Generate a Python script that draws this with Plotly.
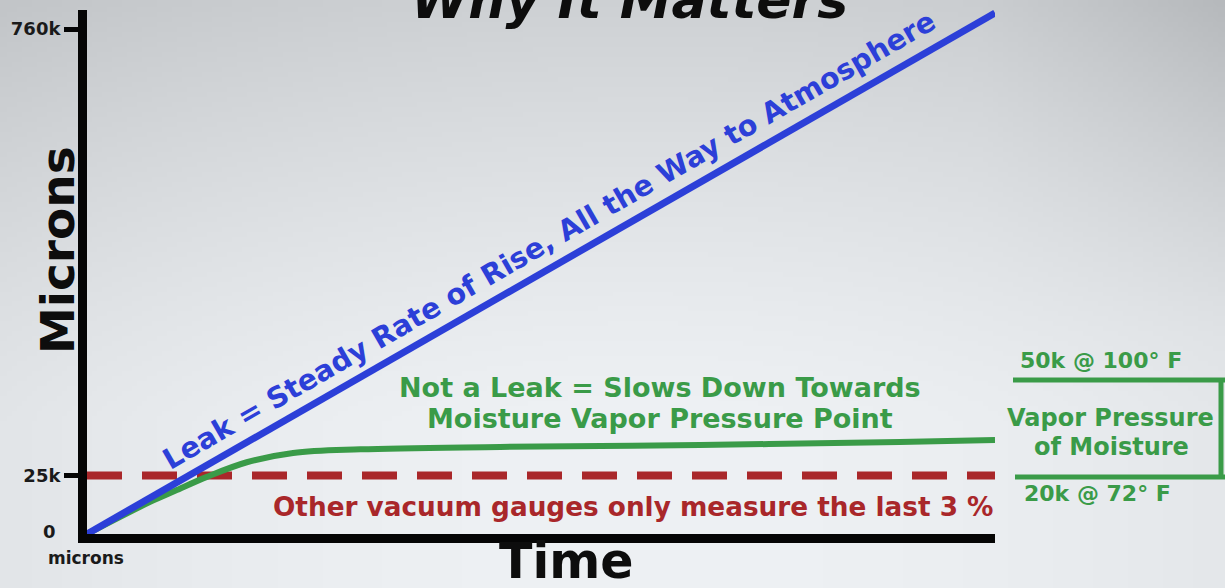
import zlib, struct, base64
import plotly.graph_objects as go

# ---------------- data (chart units: y in "display kilo-microns") ----------------
time_leak = [0, 100]
leak_level = [0, 784]

time_moist = [0, 6.9, 9.7, 13.2, 17.6, 22.7, 30.1, 45.5, 67.5, 89.5, 100]
moist_level = [0, 48, 65, 86, 108, 122, 127.5, 131, 134, 138.5, 141.5]

time_gauge = [0, 100]
gauge_level = [88, 88]

y_tickvals = [88, 760]
y_ticktext = ["25k", "760k"]

# ---------------- layout geometry ----------------
W, H = 1225, 588
ML, MR, MT, MB = 87, 230, 10, 54
PW, PH = W - ML - MR, H - MT - MB


def px(xp):
    return (xp - ML) / PW


def py(yp):
    return (H - MB - yp) / PH


# ---------------- background gradient image ----------------
def png_data_uri(w, h, fn):
    raw = bytearray()
    for j in range(h):
        raw.append(0)
        for i in range(w):
            raw += bytes(fn(i, j))

    def chunk(t, d):
        c = struct.pack('>I', len(d)) + t + d
        return c + struct.pack('>I', zlib.crc32(t + d) & 0xffffffff)

    png = (b'\x89PNG\r\n\x1a\n'
           + chunk(b'IHDR', struct.pack('>IIBBBBB', w, h, 8, 2, 0, 0, 0))
           + chunk(b'IDAT', zlib.compress(bytes(raw), 9))
           + chunk(b'IEND', b''))
    return 'data:image/png;base64,' + base64.b64encode(png).decode()


SC = 5
def bg(i, j):
    X, Y = i * SC, j * SC
    v = max(0.0, 1 - Y / 420) ** 1.3
    s = (abs(X - 640) / 640) ** 2
    L = 242 - 32 * v - 12 * s
    if X > 980:
        L -= 14 * max(0.0, 1 - Y / 330) * ((X - 980) / 245)
    L = max(0, min(255, L))
    return (int(L - 4), int(L - 1), int(L + 2))


bg_uri = png_data_uri(W // SC, H // SC + 1, bg)

# ---------------- colours / fonts ----------------
BLUE = "#2c3fd8"
GREEN = "#3a9b48"
RED = "#a9272a"
BF = "DejaVu Sans"

fig = go.Figure()
fig.add_trace(go.Scatter(x=time_gauge, y=gauge_level, mode="lines",
                         line=dict(color=RED, width=8, dash="35px,20px"),
                         hoverinfo="skip", showlegend=False))
fig.add_trace(go.Scatter(x=time_moist, y=moist_level, mode="lines",
                         line=dict(color=GREEN, width=6, shape="spline"),
                         hoverinfo="skip", showlegend=False))
fig.add_trace(go.Scatter(x=time_leak, y=leak_level, mode="lines",
                         line=dict(color=BLUE, width=7),
                         hoverinfo="skip", showlegend=False))

ann = []


def A(text, xp, yp, size, color, angle=0, style="normal", weight="bold", family=BF):
    ann.append(dict(text=text, x=px(xp), y=py(yp), xref="paper", yref="paper",
                    showarrow=False, xanchor="center", yanchor="middle",
                    textangle=angle,
                    font=dict(family=family, size=size, color=color, weight=weight, style=style)))


A("Why It Matters", 629, 0, 52, "#0d0d0d", style="italic")
A("Leak = Steady Rate of Rise, All the Way to Atmosphere", 549, 240, 28.5, BLUE, angle=-30)
A("Not a Leak = Slows Down Towards", 660, 387, 27, GREEN)
A("Moisture Vapor Pressure Point", 660, 418, 27, GREEN)
A("Other vacuum gauges only measure the last 3 %", 633, 507, 26.3, RED)
A("50k @ 100° F", 1101, 360, 22, GREEN)
A("Vapor Pressure", 1110, 418, 24, GREEN)
A("of Moisture", 1111, 447, 24, GREEN)
A("20k @ 72° F", 1097, 493, 22, GREEN)
A("Microns", 57, 250, 47, "#0d0d0d", angle=-90)
A("Time", 566, 561, 49, "#0d0d0d")
A("0", 49, 531, 18, "#1a1a1a")
A("microns", 86, 558, 17, "#1a1a1a")

shapes = [
    dict(type="line", xref="paper", yref="paper", x0=px(1013), x1=px(1225), y0=py(380), y1=py(380),
         line=dict(color=GREEN, width=5)),
    dict(type="line", xref="paper", yref="paper", x0=px(1221), x1=px(1221), y0=py(378), y1=py(479),
         line=dict(color=GREEN, width=5)),
    dict(type="line", xref="paper", yref="paper", x0=px(1015), x1=px(1225), y0=py(477), y1=py(477),
         line=dict(color=GREEN, width=5)),
]

fig.update_layout(
    width=W, height=H,
    margin=dict(l=ML, r=MR, t=MT, b=MB),
    paper_bgcolor="rgba(0,0,0,0)",
    plot_bgcolor="rgba(0,0,0,0)",
    annotations=ann,
    shapes=shapes,
    images=[dict(source=bg_uri, xref="paper", yref="paper",
                 x=-ML / PW, y=1 + MT / PH, sizex=W / PW, sizey=H / PH,
                 xanchor="left", yanchor="top", sizing="stretch", layer="below")],
    xaxis=dict(range=[0, 100], showline=True, linewidth=9, linecolor="#050505",
               showgrid=False, zeroline=False, showticklabels=False, ticks=""),
    yaxis=dict(range=[0, 788.6], showline=True, linewidth=9, linecolor="#050505",
               showgrid=False, zeroline=False,
               tickvals=y_tickvals, ticktext=y_ticktext,
               ticks="outside", ticklen=14, tickwidth=5, tickcolor="#050505",
               tickfont=dict(family=BF, size=18, color="#1a1a1a", weight="bold")),
)

fig.write_html("out.html", config={"displayModeBar": False, "staticPlot": True})

# remove default page margin so the figure sits at the window's corner
with open("out.html", "r", encoding="utf-8") as f:
    html = f.read()
html = html.replace("<head>", "<head><style>html,body{margin:0;padding:0;overflow:hidden;background:#e8eaec;}</style>", 1)
with open("out.html", "w", encoding="utf-8") as f:
    f.write(html)
